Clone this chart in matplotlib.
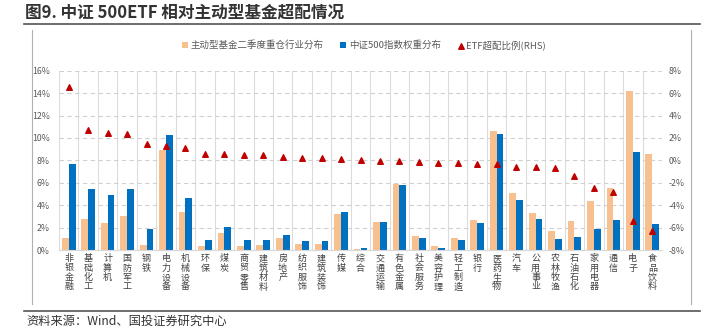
import numpy as np
import matplotlib
matplotlib.use("Agg")
import matplotlib.pyplot as plt
from matplotlib.lines import Line2D

plt.rcParams['font.family'] = ['Noto Sans CJK SC', 'DejaVu Sans']
plt.rcParams['axes.unicode_minus'] = False

# data
industries = ["非银金融", "基础化工", "计算机", "国防军工", "钢铁", "电力设备", "机械设备",
              "环保", "煤炭", "商贸零售", "建筑材料", "房地产", "纺织服饰", "建筑装饰",
              "传媒", "综合", "交通运输", "有色金属", "社会服务", "美容护理", "轻工制造",
              "银行", "医药生物", "汽车", "公用事业", "农林牧渔", "石油石化", "家用电器",
              "通信", "电子", "食品饮料"]
fund_weight = [1.04, 2.74, 2.38, 3.04, 0.45, 8.93, 3.42, 0.36, 1.52, 0.39, 0.45,
               1.04, 0.57, 0.57, 3.21, 0.09, 2.47, 5.92, 1.25, 0.36, 1.07, 2.68,
               10.63, 5.06, 3.30, 1.70, 2.59, 4.38, 5.51, 14.20, 8.60]
csi500_weight = [7.68, 5.42, 4.88, 5.42, 1.88, 10.27, 4.64, 0.89, 2.05, 0.86, 0.89,
                 1.31, 0.80, 0.80, 3.39, 0.18, 2.47, 5.83, 1.10, 0.21, 0.89, 2.41,
                 10.33, 4.46, 2.74, 1.01, 1.19, 1.85, 2.65, 8.75, 2.32]
etf_overweight = [6.58, 2.68, 2.42, 2.39, 1.43, 1.32, 1.14, 0.54, 0.54, 0.48, 0.48,
                  0.27, 0.24, 0.24, 0.13, 0.04, -0.02, -0.08, -0.14, -0.23, -0.23,
                  -0.32, -0.32, -0.59, -0.59, -0.71, -1.42, -2.46, -2.79, -5.41, -6.30]

orange = "#F8C08E"
blue = "#0070C0"
red = "#C00000"
grey_txt = "#595959"

fig = plt.figure(figsize=(7.11, 3.36), dpi=100)
ax = fig.add_axes([59 / 711, 1 - 250 / 336, (662 - 59) / 711, (250 - 70.7) / 336])
ax2 = ax.twinx()

x = np.arange(len(industries))
w = 0.35
b1 = ax.bar(x - w / 2, fund_weight, width=w, color=orange, zorder=3,
            label="主动型基金二季度重仓行业分布")
b2 = ax.bar(x + w / 2, csi500_weight, width=w, color=blue, zorder=3,
            label="中证500指数权重分布")
sc = ax2.scatter(x, etf_overweight, marker="^", s=16, color=red, zorder=4,
                 label="ETF超配比例(RHS)")

ax.set_xlim(-0.5, len(industries) - 0.5)
ax.set_ylim(0, 16)
ax2.set_ylim(-8, 8)
ax.set_yticks(np.arange(0, 17, 2))
ax2.set_yticks(np.arange(-8, 9, 2))
ax.set_yticklabels([f"{v}%" for v in range(0, 17, 2)])
ax2.set_yticklabels([f"{v}%" for v in range(-8, 9, 2)])

ax.set_xticks(x)
ax.set_xticklabels(["\n".join(n) for n in industries], fontsize=6.5,
                   linespacing=1.05, va="top", color="#404040")
ax.set_xticks(np.arange(-0.5, len(industries), 1), minor=True)

ax.grid(axis="x", which="minor", color="#dcdcdc", lw=0.8, zorder=0)
ax.grid(axis="y", which="major", color="#d0d0d0", lw=0.8, ls=(0, (4, 3)), zorder=0)
ax.tick_params(axis="x", which="both", length=0, pad=3)
ax.tick_params(axis="y", length=0, pad=6.5, labelsize=6.3, labelcolor=grey_txt)
ax2.tick_params(axis="y", length=0, pad=5, labelsize=6.3, labelcolor=grey_txt)

for a in (ax, ax2):
    for s in ("top", "left", "right"):
        a.spines[s].set_visible(False)
    a.spines["bottom"].set_color("#d9d9d9")

fig.legend(handles=[b1, b2, sc], loc="center", bbox_to_anchor=(0.512, 1 - 45 / 336),
           ncol=3, frameon=False, fontsize=6.8, handlelength=0.6, handleheight=0.6,
           columnspacing=1.8, handletextpad=0.3, labelcolor=grey_txt)

# title and frame lines
fig.text(25 / 711, 1 - 13 / 336, "图9. 中证 500ETF 相对主动型基金超配情况",
         fontsize=12, fontweight="bold", va="center", ha="left", color="#333333")
fig.add_artist(Line2D([24 / 711, 700 / 711], [1 - 24 / 336] * 2,
                      transform=fig.transFigure, color="#555555", lw=1.2))
fig.add_artist(Line2D([24 / 711, 700 / 711], [1 - 311 / 336] * 2,
                      transform=fig.transFigure, color="#555555", lw=1.2))
for xv in (32, 691):
    fig.add_artist(Line2D([xv / 711] * 2, [1 - 30 / 336, 1 - 304 / 336],
                          transform=fig.transFigure, color="#b0b0b0", lw=0.8))
fig.text(26 / 711, 1 - 321 / 336, "资料来源：Wind、国投证券研究中心",
         fontsize=8.8, style="italic", va="center", ha="left", color="#333333")

fig.savefig("out.png", dpi=100)
